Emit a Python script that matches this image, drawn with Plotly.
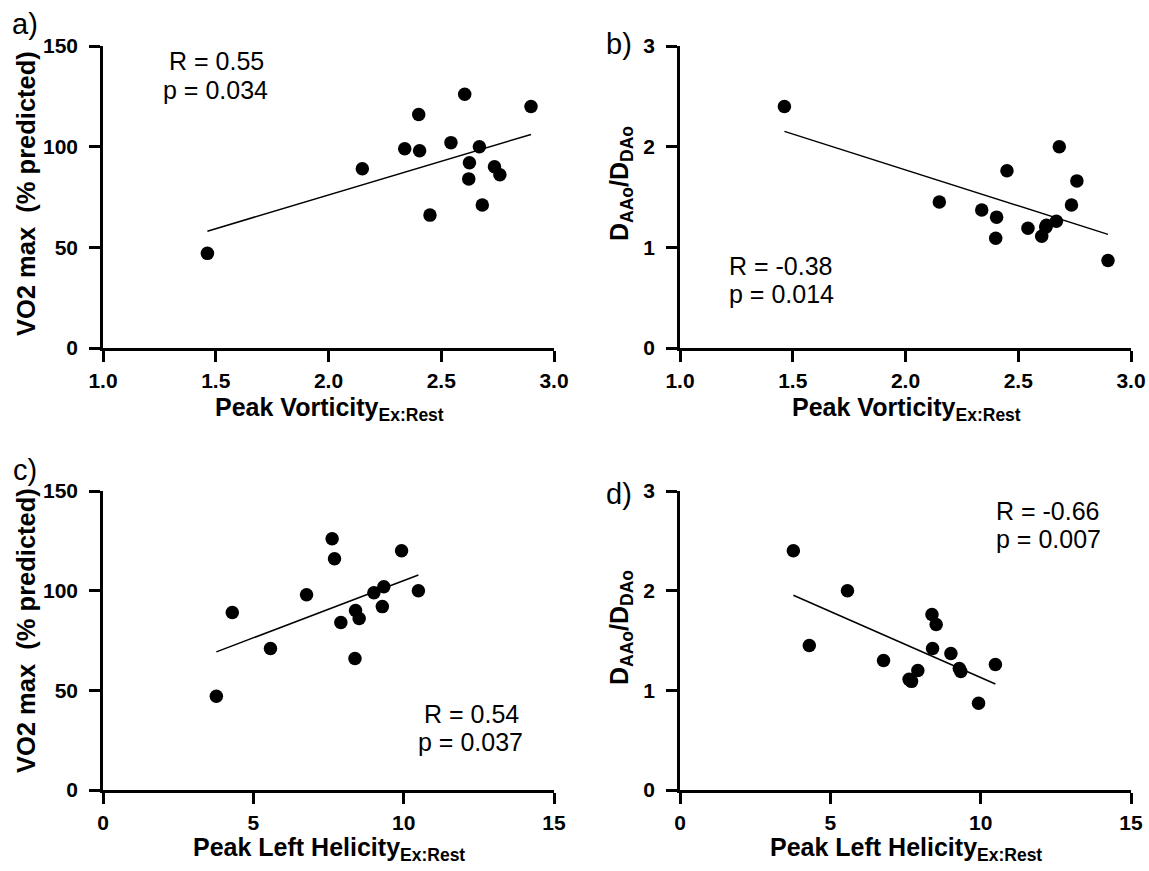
import numpy as np
import plotly.graph_objects as go

W, H = 1149, 871

# ---- data ----
vorticity = [1.463, 2.150, 2.338, 2.400, 2.404, 2.450, 2.543, 2.604, 2.625, 2.622, 2.669, 2.682, 2.736, 2.760, 2.898]
helicity = [3.77, 4.30, 9.01, 7.70, 6.77, 8.38, 9.34, 7.62, 9.29, 7.91, 10.49, 5.57, 8.40, 8.52, 9.93]
vo2max = [47, 89, 99, 116, 98, 66, 102, 126, 92, 84, 100, 71, 90, 86, 120]
d_ratio = [2.40, 1.45, 1.37, 1.09, 1.30, 1.76, 1.19, 1.11, 1.22, 1.20, 1.26, 2.00, 1.42, 1.66, 0.87]

stats_a = ["R = 0.55", "p = 0.034"]
stats_b = ["R = -0.38", "p = 0.014"]
stats_c = ["R = 0.54", "p = 0.037"]
stats_d = ["R = -0.66", "p = 0.007"]

FONT = "Liberation Sans, Arial, sans-serif"

def px(x):
    return x / W

def py(y):
    return 1 - y / H

fig = go.Figure()

panels = [
    ("x", "y", vorticity, vo2max),
    ("x2", "y2", vorticity, d_ratio),
    ("x3", "y3", helicity, vo2max),
    ("x4", "y4", helicity, d_ratio),
]
for xr, yr, xs, ys in panels:
    xs_a = np.array(xs)
    ys_a = np.array(ys)
    fig.add_trace(go.Scatter(x=xs, y=ys, mode="markers", xaxis=xr, yaxis=yr,
                             marker=dict(size=13.5, color="black"), cliponaxis=False,
                             showlegend=False))
    m, b = np.polyfit(xs_a, ys_a, 1)
    xl = np.array([xs_a.min(), xs_a.max()])
    fig.add_trace(go.Scatter(x=xl, y=m * xl + b, mode="lines", xaxis=xr, yaxis=yr,
                             line=dict(color="black", width=1.5), showlegend=False))

xdomL = [px(103), px(554)]
xdomR = [px(680), px(1131)]
ydomT = [py(348), py(46)]
ydomB = [py(790), py(491)]

axis_common = dict(showgrid=False, zeroline=False, showline=True, linecolor="black",
                   linewidth=2.5, ticks="outside", ticklen=11, tickwidth=2.5,
                   tickcolor="black", automargin=False,
                   tickfont=dict(family=FONT, size=21, color="black", weight="bold"))
xax = dict(ticklabelstandoff=1, **axis_common)
yax = dict(ticklabelstandoff=7, **axis_common)

fig.update_layout(
    width=W, height=H,
    margin=dict(l=0, r=0, t=0, b=0),
    paper_bgcolor="white", plot_bgcolor="white",
    font=dict(family=FONT, color="black"),
    xaxis=dict(domain=xdomL, anchor="y", range=[1, 3], dtick=0.5, tick0=1, tickformat=".1f", **xax),
    yaxis=dict(domain=ydomT, anchor="x", range=[0, 150], dtick=50, tick0=0, **yax),
    xaxis2=dict(domain=xdomR, anchor="y2", range=[1, 3], dtick=0.5, tick0=1, tickformat=".1f", **xax),
    yaxis2=dict(domain=ydomT, anchor="x2", range=[0, 3], dtick=1, tick0=0, **yax),
    xaxis3=dict(domain=xdomL, anchor="y3", range=[0, 15], dtick=5, tick0=0, **xax),
    yaxis3=dict(domain=ydomB, anchor="x3", range=[0, 150], dtick=50, tick0=0, **yax),
    xaxis4=dict(domain=xdomR, anchor="y4", range=[0, 15], dtick=5, tick0=0, **xax),
    yaxis4=dict(domain=ydomB, anchor="x4", range=[0, 3], dtick=1, tick0=0, **yax),
)

ann = []

def add(text, x, y, size, bold=False, angle=0, xanchor="center", yanchor="middle"):
    ann.append(dict(text=text, x=px(x), y=py(y), xref="paper", yref="paper",
                    showarrow=False, textangle=angle, xanchor=xanchor, yanchor=yanchor,
                    borderpad=0,
                    font=dict(family=FONT, size=size, color="black",
                              weight="bold" if bold else "normal")))

# panel letters
add("a)", 25, 24, 29)
add("b)", 619, 44, 29)
add("c)", 25, 470, 29)
add("d)", 619, 494, 29)

# axis titles
ytitle_vo2 = "VO2 max\u00a0 (% predicted)"
ytitle_d = "D<sub>AAo</sub>/D<sub>DAo</sub>"
xtitle_v = "Peak Vorticity<sub>Ex:Rest</sub>"
xtitle_h = "Peak Left Helicity<sub>Ex:Rest</sub>"
add(ytitle_vo2, 26, 194, 25.5, bold=True, angle=-90)
add(ytitle_vo2, 26, 631, 25.5, bold=True, angle=-90)
add(ytitle_d, 621, 184, 25, bold=True, angle=-90)
add(ytitle_d, 621, 628, 25, bold=True, angle=-90)
add(xtitle_v, 329, 409, 25, bold=True)
add(xtitle_v, 906, 409, 25, bold=True)
add(xtitle_h, 329, 849, 25, bold=True)
add(xtitle_h, 906, 849, 25, bold=True)

# statistics
add(stats_a[0], 216, 61, 25)
add(stats_a[1], 215, 90, 25)
add(stats_b[0], 781, 266, 25)
add(stats_b[1], 781, 294, 25)
add(stats_c[0], 471, 714, 25)
add(stats_c[1], 470, 742, 25)
add(stats_d[0], 1048, 511, 25)
add(stats_d[1], 1048, 539, 25)

fig.update_layout(annotations=ann)

fig.write_html("out.html", config={"displayModeBar": False},
               post_script="document.body.style.margin='0px';document.body.style.overflow='hidden';")
